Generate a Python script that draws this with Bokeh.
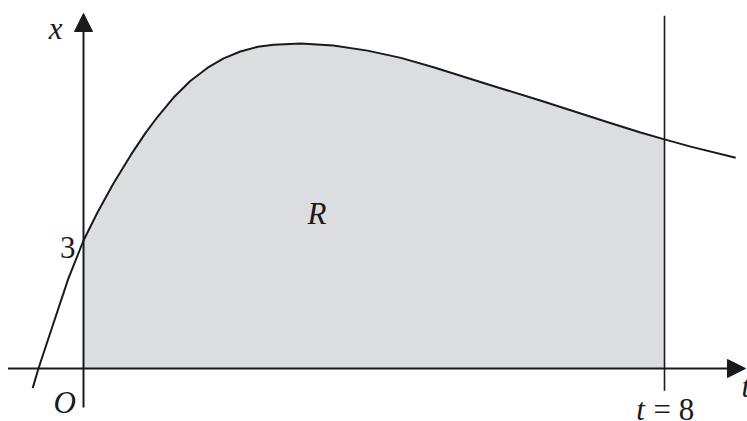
from bokeh.plotting import figure
from bokeh.models import Range1d, Arrow, NormalHead
from bokeh.core.properties import value
from bokeh.embed import file_html
from bokeh.resources import INLINE

# Curve x(t)
curve_t = [-0.70, -0.62, -0.48, -0.21, 0.00, 0.19, 0.41, 0.65, 0.85, 1.02, 1.24, 1.47,
           1.71, 1.93, 2.16, 2.40, 2.62, 2.99, 3.44, 3.91, 4.37, 4.82, 5.29, 5.74,
           6.29, 6.75, 7.22, 7.67, 8.00, 8.36, 8.98]
curve_x = [-0.46, 0.00, 0.72, 2.10, 3.00, 3.65, 4.33, 5.00, 5.51, 5.90, 6.35, 6.74,
           7.05, 7.27, 7.43, 7.54, 7.59, 7.62, 7.57, 7.45, 7.28, 7.06, 6.81, 6.57,
           6.28, 6.03, 5.77, 5.53, 5.37, 5.20, 4.94]

t_start = 0.0      # left bound of region R
t_end = 8.0        # line t = 8
x_mark = 3         # labelled intercept

FONT = value("Liberation Serif")
INK = "#1a1a1a"
SHADE = "#dcdde0"

p = figure(width=747, height=421, x_range=Range1d(-1.1429, 9.1428),
           y_range=Range1d(-1.2422, 8.625), min_border=0,
           toolbar_location=None, output_backend="svg")
p.axis.visible = False
p.grid.visible = False
p.outline_line_color = None
p.background_fill_color = "white"
p.border_fill_color = "white"

# shaded region R
fill_t = [t for t in curve_t if t_start <= t <= t_end]
fill_x = [x for t, x in zip(curve_t, curve_x) if t_start <= t <= t_end]
p.varea(x=fill_t, y1=[0] * len(fill_t), y2=fill_x, fill_color=SHADE)

# t = 8 line
p.segment(x0=[t_end], y0=[-0.52], x1=[t_end], y1=[8.27], line_color=INK, line_width=1.6)

# axes with arrows
p.add_layout(Arrow(end=NormalHead(size=18, fill_color=INK, line_color=INK, line_width=1),
                   x_start=-1.04, y_start=0, x_end=9.115, y_end=0,
                   line_color=INK, line_width=2))
p.add_layout(Arrow(end=NormalHead(size=18, fill_color=INK, line_color=INK, line_width=1),
                   x_start=0, y_start=-0.914, x_end=0, y_end=8.32,
                   line_color=INK, line_width=2))

# the curve
p.line(curve_t, curve_x, line_color=INK, line_width=2, line_join="round")

# labels
common = dict(text_font=FONT, text_font_size="31px", text_color=INK)
p.text(x=[-0.3855], y=[7.969], text=["x"], text_font_style="italic",
       text_align="center", text_baseline="alphabetic", **common)
p.text(x=[-0.11], y=[2.836], text=[str(x_mark)],
       text_align="right", text_baseline="alphabetic", **common)
p.text(x=[3.215], y=[3.633], text=["R"], text_font_style="italic",
       text_align="center", text_baseline="alphabetic", **common)
p.text(x=[-0.26], y=[-0.80], text=["O"], text_font_style="italic",
       text_align="center", text_baseline="alphabetic", **common)
p.text(x=[9.06], y=[-0.43], text=["t"], text_font_style="italic",
       text_align="left", text_baseline="alphabetic", **common)
p.text(x=[7.73], y=[-0.95], text=["t"], text_font_style="italic",
       text_align="right", text_baseline="middle", **common)
p.text(x=[7.85], y=[-0.95], text=["= %d" % t_end],
       text_align="left", text_baseline="middle", **common)

open("out.html", "w").write(file_html(p, INLINE))
